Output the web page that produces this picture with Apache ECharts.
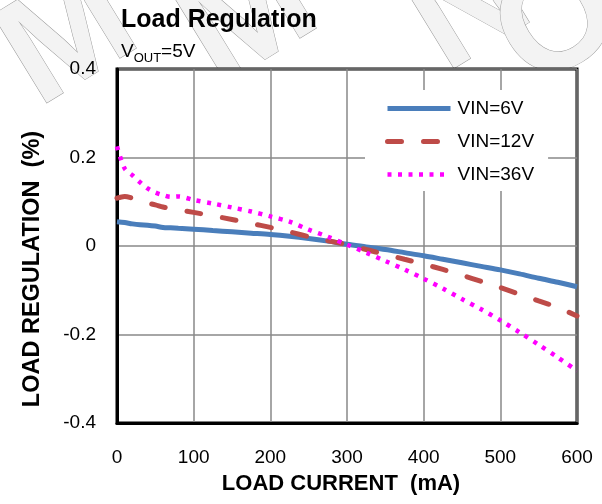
<!DOCTYPE html>
<html>
<head>
<meta charset="utf-8">
<script src="https://cdn.jsdelivr.net/npm/echarts@6/dist/echarts.min.js"></script>
<style>
  html, body { margin: 0; padding: 0; background: #fff; }
  #chart { width: 602px; height: 504px; }
</style>
</head>
<body>
<div id="chart"></div>
<script>
    // load current (mA)
    var current = [0, 10, 20, 30, 40, 50, 60, 70, 80, 100, 125, 150, 175, 200, 225, 250, 275, 300,
        325, 350, 375, 400, 425, 450, 475, 500, 525, 550, 575, 600];
    // load regulation (%)
    var vin6 = [0.055, 0.053, 0.050, 0.048, 0.047, 0.045, 0.042, 0.041, 0.040, 0.038, 0.035, 0.032, 0.029, 0.026, 0.022, 0.017, 0.011, 0.004,
        -0.002, -0.008, -0.015, -0.022, -0.030, -0.038, -0.046, -0.054, -0.063, -0.073, -0.082, -0.092];
    var vin12 = [0.108, 0.112, 0.108, 0.102, 0.097, 0.093, 0.088, 0.085, 0.082, 0.076, 0.068, 0.060, 0.051, 0.042, 0.032, 0.021, 0.012, 0.003,
        -0.008, -0.019, -0.030, -0.041, -0.053, -0.066, -0.080, -0.094, -0.109, -0.124, -0.139, -0.158];
    var vin36 = [0.225, 0.175, 0.160, 0.144, 0.130, 0.121, 0.115, 0.111, 0.112, 0.104, 0.096, 0.087, 0.078, 0.067, 0.055, 0.037, 0.021, 0.003,
        -0.015, -0.034, -0.053, -0.074, -0.096, -0.120, -0.143, -0.168, -0.195, -0.223, -0.252, -0.282];
    var seriesNames = ['VIN=6V', 'VIN=12V', 'VIN=36V'];
    var xTicks = [0, 100, 200, 300, 400, 500, 600];
    var yTicks = [-0.4, -0.2, 0, 0.2, 0.4];

    function pairs(ys) {
        return current.map(function (x, i) { return [x, ys[i]]; });
    }

    var font = '"Liberation Sans", Arial, sans-serif';
    var chart = echarts.init(document.getElementById('chart'));

    var styles = [
        {width: 5, color: '#4a7ebb', type: 'solid'},
        {width: 5, color: '#be4b48', type: [14, 22], cap: 'round'},
        {width: 4.5, color: '#ff00ff', type: [4, 6.5]}
    ];

    // faint outlined letters in the background
    function mark(ch, x, y, rot) {
        return {
            type: 'text', x: x, y: y, rotation: rot, z: -10, silent: true,
            style: {
                text: ch, font: 'bold 150px ' + font, fill: '#f3f3f3',
                stroke: '#9a9a9a', lineWidth: 1, align: 'center', verticalAlign: 'middle'
            }
        };
    }

    chart.setOption({
        backgroundColor: '#fff',
        animation: false,
        title: [{
            text: 'Load Regulation',
            left: 121, top: 8, padding: 0,
            textStyle: {fontFamily: font, fontSize: 25, fontWeight: 'bold', color: '#000'}
        }, {
            text: '{a|V}{b|OUT}{a|=5V}',
            left: 121, top: 39, padding: 0,
            textStyle: {
                rich: {
                    a: {fontFamily: font, fontSize: 19, fontWeight: 'normal', color: '#000', lineHeight: 22, verticalAlign: 'bottom'},
                    b: {fontFamily: font, fontSize: 13, fontWeight: 'normal', color: '#000', lineHeight: 22, verticalAlign: 'bottom', padding: [0, 0, -4, 0]}
                }
            }
        }],
        graphic: [
            mark('M', 70, 40, 0.55),
            mark('M', 250, 20, 0.55),
            mark('N', 470, 10, 0.55),
            mark('O', 560, 25, 0.55)
        ],
        legend: {
            left: 365, top: 90,
            orient: 'vertical',
            backgroundColor: '#fff',
            padding: [9, 14, 7, 20],
            itemWidth: 63, itemHeight: 14, itemGap: 14,
            data: seriesNames.map(function (n, i) {
                return {name: n, itemStyle: {opacity: 0}, lineStyle: styles[i]};
            }),
            textStyle: {fontFamily: font, fontSize: 19, color: '#000', padding: [0, 0, 0, 2]}
        },
        grid: {
            left: 117, right: 25, top: 69, bottom: 81,
            show: true, backgroundColor: '#fff', borderColor: '#000', borderWidth: 3
        },
        xAxis: {
            type: 'value', min: xTicks[0], max: xTicks[xTicks.length - 1], interval: 100,
            name: 'LOAD CURRENT  (mA)', nameLocation: 'middle', nameGap: 50,
            nameTextStyle: {fontFamily: font, fontSize: 22, fontWeight: 'bold', color: '#000', padding: [0, 12, 0, 0]},
            axisLine: {show: true, onZero: false, lineStyle: {color: '#000', width: 3}},
            axisTick: {show: false},
            axisLabel: {fontFamily: font, fontSize: 19, color: '#000', margin: 25},
            splitLine: {lineStyle: {color: '#888', width: 1.5}}
        },
        yAxis: {
            type: 'value', min: yTicks[0], max: yTicks[yTicks.length - 1], interval: 0.2,
            name: 'LOAD REGULATION  (%)', nameLocation: 'middle', nameGap: 72, nameRotate: 90,
            nameTextStyle: {fontFamily: font, fontSize: 23.5, fontWeight: 'bold', color: '#000', padding: [0, 46, 0, 0]},
            axisLine: {show: true, onZero: false, lineStyle: {color: '#000', width: 3}},
            axisTick: {show: false},
            axisLabel: {
                fontFamily: font, fontSize: 19, color: '#000', margin: 21,
                formatter: function (v) { return v === 0 ? '0' : v.toFixed(1); }
            },
            splitLine: {lineStyle: {color: '#888', width: 1.5}}
        },
        series: seriesNames.map(function (n, i) {
            return {
                name: n, type: 'line', data: pairs([vin6, vin12, vin36][i]),
                symbol: 'none', smooth: 0.3, color: styles[i].color,
                lineStyle: styles[i]
            };
        })
    });
</script>
</body>
</html>
